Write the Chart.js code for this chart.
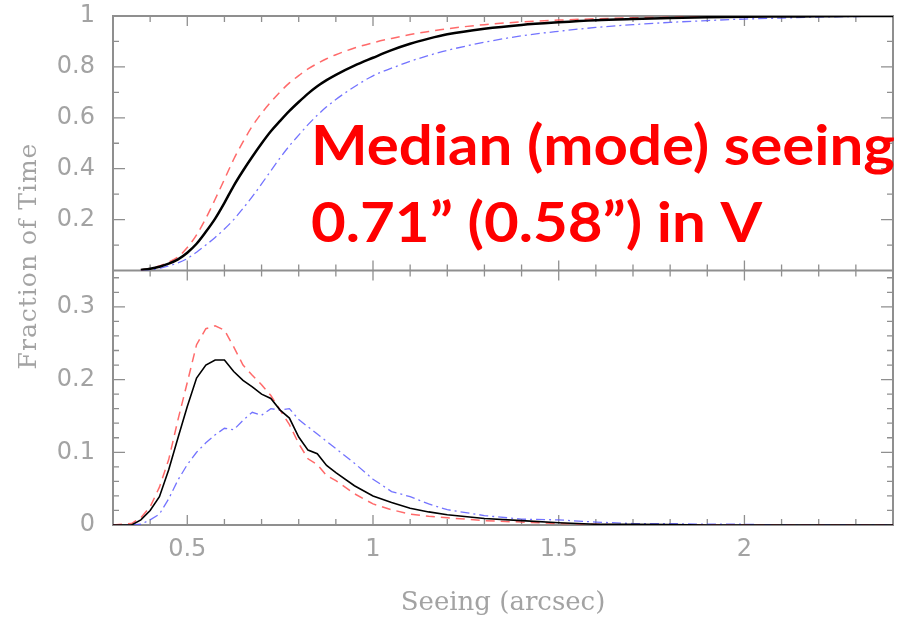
<!DOCTYPE html>
<html>
<head>
<meta charset="utf-8">
<script src="https://cdn.jsdelivr.net/npm/chart.js@4.4.1/dist/chart.umd.min.js"></script>
<style>
  html, body { margin: 0; padding: 0; background: #ffffff; }
  #wrap { width: 906px; height: 620px; }
</style>
</head>
<body>
<div id="wrap"><canvas id="seeing-chart" width="906" height="620"></canvas></div>
<script>
// Seeing in arcsec (shared x values for all curves)
const seeing = [0.30, 0.35, 0.375, 0.40, 0.425, 0.45, 0.475, 0.50, 0.525, 0.55, 0.575, 0.60, 0.625, 0.65, 0.675, 0.70,
  0.725, 0.75, 0.775, 0.80, 0.825, 0.85, 0.875, 0.90, 0.95, 1.00, 1.05, 1.10, 1.15, 1.20, 1.30, 1.40, 1.50, 1.60,
  1.70, 1.80, 1.90, 2.00, 2.10, 2.20, 2.30, 2.40]

// top panel: cumulative fraction of time
const cumAll = [null, null, 0.002, 0.007, 0.015, 0.027, 0.044, 0.07, 0.105, 0.152, 0.204, 0.266, 0.333, 0.392, 0.447, 0.499,
  0.547, 0.588, 0.627, 0.662, 0.695, 0.724, 0.748, 0.769, 0.805, 0.836, 0.866, 0.891, 0.911, 0.928, 0.950, 0.965, 0.975, 0.983,
  0.988, 0.992, 0.995, 0.997, 0.998, 0.999, 1.0, 1.0]
const cumRed = [null, null, 0.002, 0.008, 0.018, 0.033, 0.053, 0.09, 0.14, 0.205, 0.28, 0.358, 0.437, 0.505, 0.567, 0.618,
  0.662, 0.702, 0.737, 0.766, 0.792, 0.813, 0.832, 0.848, 0.874, 0.895, 0.912, 0.927, 0.939, 0.95, 0.966, 0.977, 0.984, 0.989,
  0.993, 0.995, 0.997, 0.998, 0.999, 1.0, 1.0, 1.0]
const cumBlue = [null, null, 0.001, 0.003, 0.008, 0.018, 0.03, 0.047, 0.072, 0.1, 0.13, 0.163, 0.2, 0.244, 0.29, 0.34,
  0.392, 0.443, 0.49, 0.532, 0.573, 0.61, 0.643, 0.672, 0.722, 0.765, 0.795, 0.822, 0.845, 0.865, 0.897, 0.922, 0.94, 0.955,
  0.966, 0.975, 0.982, 0.988, 0.992, 0.996, 0.998, 1.0]

// bottom panel: fraction of time per bin
const fracAll = [0, 0, 0.007, 0.02, 0.039, 0.076, 0.12, 0.163, 0.202, 0.220, 0.227, 0.227, 0.211, 0.199, 0.19, 0.180,
  0.174, 0.158, 0.147, 0.121, 0.103, 0.098, 0.082, 0.072, 0.054, 0.040, 0.031, 0.023, 0.018, 0.014, 0.009, 0.006, 0.003, 0.001,
  0.001, 0.0005, 0, 0, 0, 0, 0, 0]
const fracRed = [0, 0.002, 0.010, 0.025, 0.052, 0.09, 0.145, 0.196, 0.248, 0.270, 0.274, 0.268, 0.245, 0.220, 0.206, 0.193,
  0.178, 0.158, 0.138, 0.112, 0.091, 0.083, 0.068, 0.061, 0.043, 0.029, 0.021, 0.015, 0.012, 0.010, 0.006, 0.004, 0.002, 0.001,
  0, 0, 0, 0, 0, 0, 0, 0]
const fracBlue = [0, 0, 0.001, 0.007, 0.015, 0.036, 0.062, 0.083, 0.100, 0.113, 0.124, 0.133, 0.131, 0.144, 0.155, 0.151,
  0.160, 0.158, 0.160, 0.145, 0.135, 0.125, 0.115, 0.105, 0.085, 0.063, 0.046, 0.039, 0.029, 0.021, 0.013, 0.008, 0.007, 0.004,
  0.002, 0.002, 0.001, 0.001, 0, 0, 0, 0]

const xTickLabels = [0.5, 1, 1.5, 2]
const annotation = ['Median (mode) seeing', '0.71\u201D (0.58\u201D) in V']

const axisGrey = '#8f8f8f'
const labelGrey = '#a3a3a3'

const toPoints = (ys) => seeing.map((x, i) => ({ x: x, y: ys[i] }))

function lineStyle (color, width, dash) {
  return { borderColor: color, borderWidth: width, borderDash: dash, pointRadius: 0, showLine: true, fill: false }
}

// y axes: fixed width, no extra room reserved for half labels
function fitYAxis (scale) {
  scale.width = 113
  scale.paddingTop = 0
  scale.paddingBottom = 0
}

// frame + inward ticks on every side of both panels (pgplot look)
const framePlugin = {
  id: 'frame',
  beforeDatasetsDraw (chart) {
    const { ctx, chartArea: a, scales } = chart
    const x = scales.x, yt = scales.yTop, yb = scales.yBot
    ctx.save()
    ctx.strokeStyle = axisGrey
    ctx.lineWidth = 1.3
    // x ticks every 0.1, long ones on 0.5
    for (let i = 4; i < 24; i++) {
      const px = x.getPixelForValue(i / 10)
      const len = (i % 5 === 0) ? 10 : 6
      ctx.beginPath()
      ctx.moveTo(px, yt.top); ctx.lineTo(px, yt.top + len)
      ctx.moveTo(px, yt.bottom); ctx.lineTo(px, yt.bottom - len)
      ctx.moveTo(px, yb.top); ctx.lineTo(px, yb.top + len)
      ctx.moveTo(px, yb.bottom); ctx.lineTo(px, yb.bottom - len)
      ctx.stroke()
    }
    // y ticks, top panel
    for (let i = 1; i < 10; i++) {
      const py = yt.getPixelForValue(i / 10)
      const len = (i % 2 === 0) ? 12 : 6
      ctx.beginPath()
      ctx.moveTo(a.left, py); ctx.lineTo(a.left + len, py)
      ctx.moveTo(a.right, py); ctx.lineTo(a.right - len, py)
      ctx.stroke()
    }
    // y ticks, bottom panel
    for (let i = 1; i < 18; i++) {
      const py = yb.getPixelForValue(i / 50)
      const len = (i % 5 === 0) ? 12 : 6
      ctx.beginPath()
      ctx.moveTo(a.left, py); ctx.lineTo(a.left + len, py)
      ctx.moveTo(a.right, py); ctx.lineTo(a.right - len, py)
      ctx.stroke()
    }
    ctx.lineWidth = 2
    ctx.strokeRect(a.left, a.top, a.right - a.left, a.bottom - a.top)
    ctx.beginPath()
    ctx.moveTo(a.left, yt.bottom); ctx.lineTo(a.right, yt.bottom)
    ctx.stroke()
    ctx.restore()
  },
  afterDraw (chart) {
    const { ctx } = chart
    ctx.save()
    // shared y title
    ctx.fillStyle = labelGrey
    ctx.font = '25px "DejaVu Serif"'
    ctx.letterSpacing = '1px'
    ctx.textAlign = 'center'
    ctx.textBaseline = 'middle'
    ctx.translate(29, 256)
    ctx.rotate(-Math.PI / 2)
    ctx.fillText('Fraction of Time', 0, 0)
    ctx.restore()

    // big red note
    ctx.save()
    ctx.fillStyle = '#ff0000'
    ctx.font = 'bold 56px Lato'
    ctx.textAlign = 'left'
    ctx.textBaseline = 'alphabetic'
    const w = ctx.measureText(annotation[0]).width
    const sx = 584 / w
    ctx.translate(311, 0)
    ctx.scale(sx, 1)
    ctx.fillText(annotation[0], 0, 165)
    ctx.fillText(annotation[1], 0, 242)
    ctx.restore()
  }
}

const tickFont = { family: 'DejaVu Sans', size: 24 }

const config = {
  type: 'scatter',
  data: {
    datasets: [
      Object.assign({ label: 'all (top)', data: toPoints(cumAll), xAxisID: 'x', yAxisID: 'yTop', cubicInterpolationMode: 'monotone' },
        lineStyle('#000000', 2.5, [])),
      Object.assign({ label: 'red (top)', data: toPoints(cumRed), xAxisID: 'x', yAxisID: 'yTop', cubicInterpolationMode: 'monotone' },
        lineStyle('rgba(255,80,80,0.85)', 1.5, [9, 6])),
      Object.assign({ label: 'blue (top)', data: toPoints(cumBlue), xAxisID: 'x', yAxisID: 'yTop', cubicInterpolationMode: 'monotone' },
        lineStyle('rgba(90,90,255,0.85)', 1.3, [9, 4, 2, 4])),
      Object.assign({ label: 'all (bottom)', data: toPoints(fracAll), xAxisID: 'x', yAxisID: 'yBot' },
        lineStyle('#000000', 1.6, [])),
      Object.assign({ label: 'red (bottom)', data: toPoints(fracRed), xAxisID: 'x', yAxisID: 'yBot' },
        lineStyle('rgba(255,80,80,0.85)', 1.5, [9, 6])),
      Object.assign({ label: 'blue (bottom)', data: toPoints(fracBlue), xAxisID: 'x', yAxisID: 'yBot' },
        lineStyle('rgba(90,90,255,0.85)', 1.3, [9, 4, 2, 4]))
    ]
  },
  options: {
    responsive: false,
    animation: false,
    events: [],
    layout: { padding: { top: 16, right: 13, left: 0, bottom: 0 } },
    plugins: { legend: { display: false }, tooltip: { enabled: false } },
    scales: {
      x: {
        type: 'linear',
        position: 'bottom',
        min: 0.3,
        max: 2.4,
        afterFit: (scale) => { scale.height = 95 },
        grid: { display: false },
        border: { display: false },
        ticks: {
          stepSize: 0.5,
          padding: 2,
          autoSkip: false,
          includeBounds: false,
          color: labelGrey,
          font: tickFont,
          maxRotation: 0,
          callback: (v) => xTickLabels.includes(Math.round(v * 100) / 100) ? String(Math.round(v * 100) / 100) : ''
        },
        title: {
          display: true,
          text: 'Seeing (arcsec)',
          color: labelGrey,
          font: { family: 'DejaVu Serif', size: 26 },
          padding: { top: 0, bottom: 1 }
        }
      },
      yTop: {
        type: 'linear',
        position: 'left',
        stack: 'panels',
        stackWeight: 1,
        weight: 1,
        min: 0,
        max: 1,
        afterFit: fitYAxis,
        grid: { display: false },
        border: { display: false },
        ticks: {
          stepSize: 0.2,
          padding: 10,
          autoSkip: false,
          color: labelGrey,
          font: tickFont,
          callback: (v) => v === 0 ? '' : String(Math.round(v * 10) / 10)
        }
      },
      yBot: {
        type: 'linear',
        position: 'left',
        stack: 'panels',
        stackWeight: 1,
        weight: 0,
        min: 0,
        max: 0.35,
        afterFit: fitYAxis,
        grid: { display: false },
        border: { display: false },
        ticks: {
          stepSize: 0.1,
          padding: 10,
          autoSkip: false,
          includeBounds: false,
          color: labelGrey,
          font: tickFont,
          callback: (v) => {
            const r = Math.round(v * 10) / 10
            return Math.abs(v - r) < 1e-6 ? String(r) : ''
          }
        }
      }
    }
  },
  plugins: [framePlugin]
}

try {
  new Chart(document.getElementById('seeing-chart'), config)
} catch (error) {
  console.error(`Chart render failed: ${error}`)
}
</script>
</body>
</html>
